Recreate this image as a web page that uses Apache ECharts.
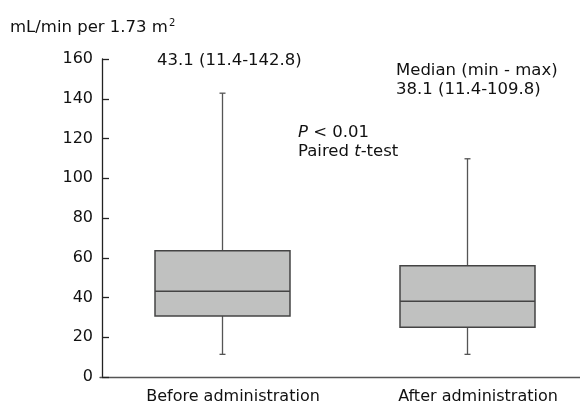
<!DOCTYPE html>
<html>
<head>
<meta charset="utf-8">
<script src="https://cdn.jsdelivr.net/npm/echarts@6/dist/echarts.min.js"></script>
<style>html,body{margin:0;padding:0;background:#fff}#c{width:580px;height:406px}</style>
</head>
<body>
<div id="c"></div>
<script>
var categories = ['Before administration', 'After administration'];
var mins = [11.4, 11.4];
var q1s = [30.7, 25.0];
var medians = [43.1, 38.1];
var q3s = [63.5, 56.0];
var maxs = [142.8, 109.8];
var yTicks = [0, 20, 40, 60, 80, 100, 120, 140, 160];

var FONT = 'DejaVu Sans';
var TS = 16.5;
var chart = echarts.init(document.getElementById('c'), null, {renderer: 'canvas'});
var data = categories.map(function (c, i) {
  return [i, mins[i], q1s[i], medians[i], q3s[i], maxs[i]];
});
function txt(x, y, text, rich) {
  var st = {text: text, x: 0, y: 0, verticalAlign: 'middle', fill: '#111', fontFamily: FONT, fontSize: TS};
  if (rich) st.rich = rich;
  return {type: 'text', x: x, y: y, style: st};
}
var richPT = {
  i: {fontFamily: FONT, fontSize: TS, fontStyle: 'italic', fill: '#111'},
  a: {fontFamily: FONT, fontSize: TS, fill: '#111'}
};
chart.setOption({
  animation: false,
  grid: {left: 100, top: 59, width: 490, bottom: 29, containLabel: false, outerBoundsMode: 'none'},
  xAxis: {
    type: 'category', data: categories,
    axisLine: {lineStyle: {color: '#555', width: 1.3}},
    axisTick: {show: false},
    axisLabel: {color: '#111', fontFamily: FONT, fontSize: 16, margin: 12, padding: [0, 0, 0, 21]}
  },
  yAxis: {
    type: 'value', min: yTicks[0], max: yTicks[yTicks.length - 1], interval: 20,
    offset: -2,
    splitLine: {show: false},
    axisLine: {show: true, lineStyle: {color: '#222', width: 1.3}},
    axisTick: {show: true, inside: true, length: 7, lineStyle: {color: '#222', width: 1.3}},
    axisLabel: {color: '#111', fontFamily: FONT, fontSize: 16, margin: 9}
  },
  series: [{
    type: 'custom',
    data: data,
    encode: {x: 0, y: [1, 2, 3, 4, 5]},
    renderItem: function (params, api) {
      var i = api.value(0);
      var band = api.size([1, 0])[0];
      var hw = band * 0.551 / 2;
      var pMin = api.coord([i, api.value(1)]);
      var pQ1 = api.coord([i, api.value(2)]);
      var pMed = api.coord([i, api.value(3)]);
      var pQ3 = api.coord([i, api.value(4)]);
      var pMax = api.coord([i, api.value(5)]);
      var x = pMin[0];
      var cap = 3;
      var wStyle = {stroke: '#555', lineWidth: 1.3};
      var bStyle = {stroke: '#444', lineWidth: 1.5};
      return {
        type: 'group',
        children: [
          {type: 'line', shape: {x1: x, y1: pMin[1], x2: x, y2: pQ1[1]}, style: wStyle},
          {type: 'line', shape: {x1: x, y1: pQ3[1], x2: x, y2: pMax[1]}, style: wStyle},
          {type: 'line', shape: {x1: x - cap, y1: pMin[1], x2: x + cap, y2: pMin[1]}, style: wStyle},
          {type: 'line', shape: {x1: x - cap, y1: pMax[1], x2: x + cap, y2: pMax[1]}, style: wStyle},
          {type: 'rect', shape: {x: x - hw, y: pQ3[1], width: hw * 2, height: pQ1[1] - pQ3[1]},
            style: {fill: '#c0c1c0', stroke: '#444', lineWidth: 1.5}},
          {type: 'line', shape: {x1: x - hw, y1: pMed[1], x2: x + hw, y2: pMed[1]}, style: bStyle}
        ]
      };
    }
  }],
  graphic: [
    txt(10, 28, '{a|mL/min per 1.73 m}{s|2}', {
      a: {fontFamily: FONT, fontSize: TS, fill: '#111'},
      s: {fontFamily: FONT, fontSize: 10, fill: '#111', verticalAlign: 'top', padding: [0, 0, 9, 1]}
    }),
    txt(157, 61, '43.1 (11.4-142.8)'),
    txt(396, 71, 'Median (min - max)'),
    txt(396, 90, '38.1 (11.4-109.8)'),
    txt(298, 133, '{i|P}{a| < 0.01}', richPT),
    txt(298, 152, '{a|Paired }{i|t}{a|-test}', richPT)
  ]
});
</script>
</body>
</html>
